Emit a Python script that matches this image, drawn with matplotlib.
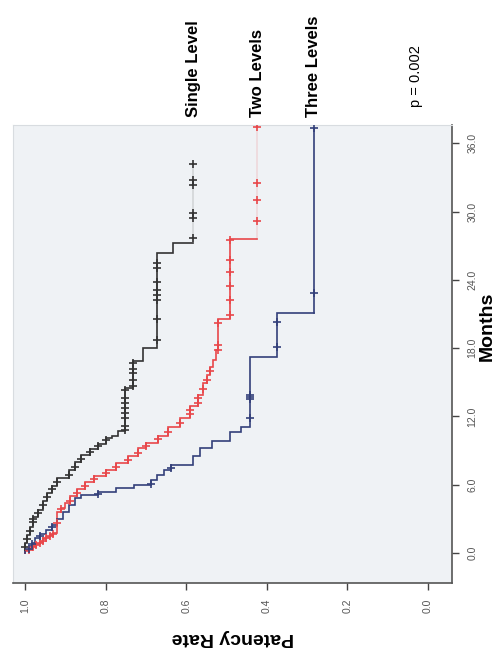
import numpy as np
import matplotlib
matplotlib.use("Agg")
import matplotlib.pyplot as plt
from matplotlib.transforms import blended_transform_factory

plt.rcParams['font.family'] = ['Liberation Sans', 'DejaVu Sans']

# ---------------- data ----------------
groups = ["Single Level", "Two Levels", "Three Levels"]
p_text = "p = 0.002"

# event times (months) and survival after each event
single_times = [0.9, 1.6, 2.3, 3.2, 3.8, 4.6, 5.3, 5.9, 6.6, 7.3, 8.0, 8.6, 9.1, 9.6,
                10.1, 10.3, 10.7, 14.5, 16.9, 18.0, 26.4, 27.2]
single_surv = [0.995, 0.988, 0.98, 0.968, 0.955, 0.945, 0.932, 0.92, 0.89, 0.875, 0.86,
               0.84, 0.82, 0.80, 0.785, 0.77, 0.752, 0.732, 0.707, 0.672, 0.633, 0.583]
single_censor = [0.5, 1.2, 1.9, 2.7, 3.0, 3.5, 4.2, 4.9, 5.6, 6.2, 6.9, 7.6, 8.3, 8.9,
                 9.4, 9.9, 10.8, 11.2, 11.9, 12.3, 12.7, 13.2, 13.6, 14.3, 14.7, 15.2,
                 15.8, 16.2, 16.7, 18.7, 20.6, 22.2, 22.7, 23.1, 23.8, 25.0, 25.5, 27.7,
                 29.4, 29.9, 32.3, 32.8, 34.2]

two_times = [0.2, 0.4, 0.6, 0.8, 1.0, 1.2, 1.4, 1.6, 1.8, 3.6, 4.0, 4.4, 5.0, 5.6, 6.2,
             6.8, 7.3, 7.9, 8.5, 9.2, 9.7, 10.3, 11.1, 11.9, 12.9, 13.9, 14.9, 15.6,
             16.3, 17.0, 17.8, 20.6, 27.6]
two_surv = [0.99, 0.98, 0.972, 0.963, 0.955, 0.947, 0.938, 0.93, 0.92, 0.912, 0.9,
            0.888, 0.87, 0.85, 0.83, 0.80, 0.775, 0.745, 0.72, 0.70, 0.67, 0.645, 0.615,
            0.59, 0.57, 0.558, 0.548, 0.54, 0.533, 0.525, 0.52, 0.491, 0.424]
two_censor = [0.3, 0.5, 0.7, 0.9, 1.1, 1.3, 1.5, 1.7, 2.6, 3.9, 4.6, 5.3, 5.9, 6.5, 7.0,
              7.6, 8.2, 8.8, 9.4, 10.0, 10.6, 11.4, 12.2, 12.6, 13.2, 13.6, 14.4, 15.2,
              16.0, 17.8, 18.3, 20.2, 20.9, 22.2, 23.5, 24.7, 25.7, 27.5, 29.2, 31.0,
              32.5, 37.4]

three_times = [0.3, 0.6, 0.9, 1.3, 1.7, 2.0, 2.5, 3.0, 3.6, 4.2, 4.8, 5.1, 5.4, 5.7,
               6.0, 6.4, 6.9, 7.3, 7.7, 8.5, 9.2, 9.8, 10.6, 11.1, 17.2, 21.1]
three_surv = [0.99, 0.983, 0.975, 0.962, 0.948, 0.933, 0.92, 0.905, 0.89, 0.875, 0.86,
              0.82, 0.775, 0.73, 0.688, 0.672, 0.655, 0.638, 0.583, 0.566, 0.536, 0.49,
              0.465, 0.442, 0.375, 0.283]
three_censor = [0.4, 0.8, 1.5, 2.3, 5.2, 6.05, 7.5, 11.9, 13.5, 13.7, 13.9, 18.1, 20.3,
                22.8, 37.3]

rate_ticks = [1.0, 0.8, 0.6, 0.4, 0.2, 0.0]
month_ticks = [0, 6, 12, 18, 24, 30, 36]

colors = ["#333333", "#e8474a", "#33407a"]
tail_alpha = [0.15, 0.15, 1.0]

series = [(single_times, single_surv, single_censor),
          (two_times, two_surv, two_censor),
          (three_times, three_surv, three_censor)]

# ---------------- figure ----------------
fig = plt.figure(figsize=(5.0, 6.67), dpi=100)
ax = fig.add_axes([13 / 500, 1 - 583 / 667, 439 / 500, 458 / 667])
ax.set_facecolor("#eff2f5")


def surv_at(times, surv, t):
    idx = np.searchsorted(np.asarray(times), t, side="right") - 1
    return 1.0 if idx < 0 else surv[idx]


for (times, surv, cens), col, ta in zip(series, colors, tail_alpha):
    xs, ys = [1.0], [0.0]
    prev = 1.0
    for t, s in zip(times, surv):
        xs += [prev, s]
        ys += [t, t]
        prev = s
    ax.plot(xs, ys, color=col, lw=1.2, solid_joinstyle="miter", zorder=3)
    t_end = max(cens)
    if t_end > times[-1]:
        ax.plot([surv[-1], surv[-1]], [times[-1], t_end], color=col, lw=1.2,
                alpha=ta, zorder=3)
    cx = [surv_at(times, surv, c) for c in cens]
    ax.plot(cx, cens, ls="none", marker="+", ms=6, mew=1.2, color=col, zorder=4)

ax.set_xlim(1.03, -0.06)
ax.set_ylim(-2.63, 37.6)

ax.set_xticks(rate_ticks)
ax.set_xticklabels([f"{v:.1f}" for v in rate_ticks], rotation=90, fontsize=7.5,
                   color="#555555")
ax.yaxis.tick_right()
ax.set_yticks(month_ticks)
ax.set_yticklabels([f"{v:.1f}" for v in month_ticks], rotation=90, fontsize=7.5,
                   color="#555555", va="center")
ax.tick_params(axis="both", direction="out", length=5, width=1, color="#444444",
               pad=6)

for side in ["top", "left"]:
    ax.spines[side].set_color("#d8dce0")
    ax.spines[side].set_linewidth(0.8)
for side in ["bottom", "right"]:
    ax.spines[side].set_color("#555555")
    ax.spines[side].set_linewidth(1.2)

ax.set_xlabel("Patency Rate", rotation=180, fontsize=14, fontweight="bold",
              labelpad=12)
ax.yaxis.set_label_position("right")
ax.set_ylabel("Months", rotation=90, fontsize=14, fontweight="bold")
ax.yaxis.set_label_coords(1.06, 0.56)

tr = blended_transform_factory(ax.transData, ax.transAxes)
for (times, surv, cens), name in zip(series, groups):
    ax.text(surv[-1], 1.017, name, transform=tr, rotation=90, ha="center",
            va="bottom", fontsize=12, fontweight="bold")
ax.text(0.03, 1.04, p_text, transform=tr, rotation=90, ha="center", va="bottom",
        fontsize=10.5)

fig.savefig("out.png", dpi=100, facecolor="white")
